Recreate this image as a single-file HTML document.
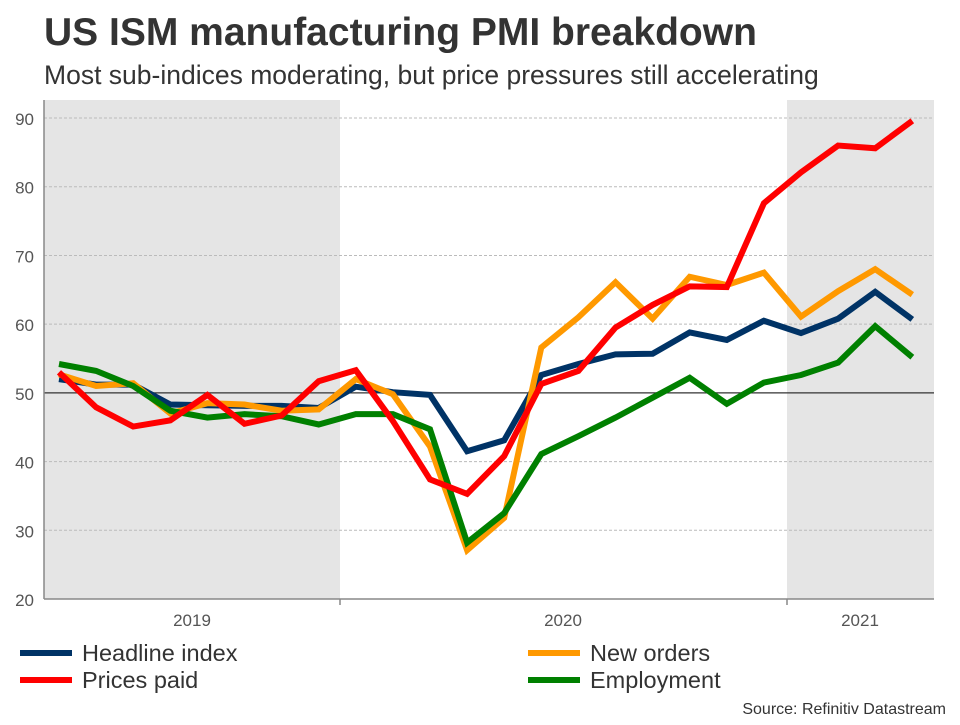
<!DOCTYPE html>
<html><head><meta charset="utf-8"><style>
body{margin:0;background:#fff;font-family:"Liberation Sans",Arial,sans-serif;}
</style></head><body>
<svg width="960" height="720" xmlns="http://www.w3.org/2000/svg">
<text x="44" y="45" font-size="39" font-weight="bold" fill="#333">US ISM manufacturing PMI breakdown</text>
<text x="44" y="84" font-size="26.5" fill="#333">Most sub-indices moderating, but price pressures still accelerating</text>
<g id="plot"></g>
<text x="946" y="714" font-size="16" fill="#333" text-anchor="end">Source: Refinitiv Datastream</text>
</svg>
<script>
const headline=[52,51.2,51.2,48.3,48.2,48.1,48.1,47.8,50.9,50.1,49.7,41.5,43.1,52.6,54.2,55.6,55.7,58.8,57.7,60.5,58.7,60.8,64.7,60.7];
const newOrders=[52.7,51,51.4,47,48.5,48.3,47.4,47.6,52,49.8,42.2,27.1,31.8,56.6,61,66.1,60.8,66.9,65.7,67.5,61.1,64.8,68,64.3];
const prices=[53,47.9,45.1,46,49.7,45.5,46.7,51.7,53.3,45.9,37.4,35.3,40.8,51.3,53.2,59.5,62.8,65.5,65.4,77.6,82.1,86,85.6,89.6];
const employment=[54.2,53.2,51,47.4,46.4,46.9,46.6,45.4,46.9,46.9,44.7,28.2,32.5,41.1,43.7,46.4,49.3,52.2,48.4,51.5,52.6,54.4,59.7,55.2];
const yTicks=[20,30,40,50,60,70,80,90];
const yearLabels=["2019","2020","2021"];
const NS="http://www.w3.org/2000/svg";
const g=document.getElementById('plot');
const L=44,R=934,T=100,B=599;
const x=i=>59+i*37.1;
const y=v=>599-(v-20)*6.871;
function mk(t,a){const e=document.createElementNS(NS,t);for(const k in a)e.setAttribute(k,a[k]);g.appendChild(e);return e;}
let e;
e=mk('rect',{x:L,y:T,width:296,height:B-T,fill:'#e5e5e5'});


e=mk('rect',{x:787,y:T,width:R-787,height:B-T,fill:'#e5e5e5'});


yTicks.forEach(v=>{
 if(v!==20&&v!==50){e=mk('line',{x1:L,x2:R,y1:y(v),y2:y(v),stroke:'#bbb','stroke-dasharray':'3,2','stroke-width':1});
 
 }
 e=mk('text',{x:34,y:y(v)+7,'font-size':17,fill:'#555','text-anchor':'end'});e.textContent=v;
 
 
});
e=mk('line',{x1:L,x2:R,y1:y(50),y2:y(50),stroke:'#333','stroke-width':1.2});


e=mk('line',{x1:L,x2:L,y1:T,y2:B,stroke:'#888','stroke-width':1.5});


e=mk('line',{x1:L,x2:R,y1:B,y2:B,stroke:'#888','stroke-width':1.5});


[340,787].forEach(px=>{e=mk('line',{x1:px,x2:px,y1:B,y2:B+6,stroke:'#888','stroke-width':1.5});

});
[192,563,860].forEach((px,i)=>{e=mk('text',{x:px,y:626,'font-size':17,fill:'#555','text-anchor':'middle'});e.textContent=yearLabels[i];

});
const series=[[headline,'#003366','headline-line'],[newOrders,'#ff9900','new-orders-line'],[prices,'#ff0000','prices-paid-line'],[employment,'#008000','employment-line']];
const order=[0,1,3,2];
order.forEach(k=>{const s=series[k];
 e=mk('polyline',{points:s[0].map((v,i)=>x(i)+','+y(v)).join(' '),fill:'none',stroke:s[1],'stroke-width':6,'stroke-linejoin':'miter'});
 
 
});
const leg=[["Headline index",'#003366',20,653],["New orders",'#ff9900',528,653],["Prices paid",'#ff0000',20,680],["Employment",'#008000',528,680]];
leg.forEach(l=>{
 e=mk('line',{x1:l[2],x2:l[2]+52,y1:l[3],y2:l[3],stroke:l[1],'stroke-width':6});
 
 
 e=mk('text',{x:l[2]+62,y:l[3]+8,'font-size':23.5,fill:'#333'});e.textContent=l[0];
 
 
});
</script>
</body></html>
